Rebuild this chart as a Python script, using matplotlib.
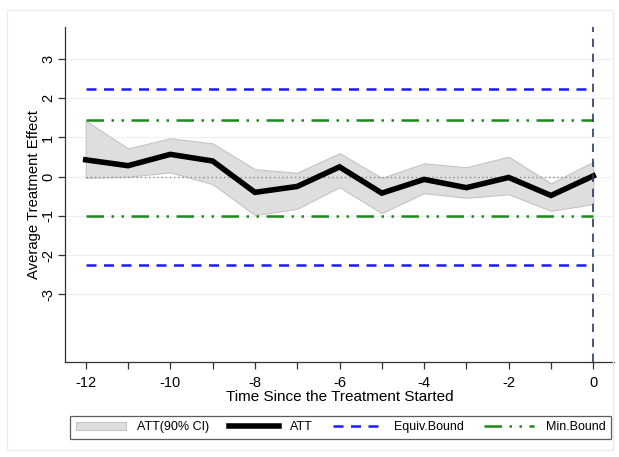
import matplotlib
matplotlib.use("Agg")
import matplotlib.pyplot as plt
from matplotlib.patches import Patch, Rectangle
from matplotlib.lines import Line2D

plt.rcParams['font.family'] = ['Liberation Sans', 'DejaVu Sans']
plt.rcParams['axes.unicode_minus'] = False

periods = [-12, -11, -10, -9, -8, -7, -6, -5, -4, -3, -2, -1, 0]
att = [0.43, 0.28, 0.57, 0.40, -0.40, -0.25, 0.25, -0.42, -0.07, -0.28, -0.02, -0.48, 0.02]
ci_upper = [1.43, 0.72, 0.98, 0.85, 0.19, 0.10, 0.60, -0.03, 0.34, 0.24, 0.51, -0.17, 0.38]
ci_lower = [-0.03, 0.00, 0.11, -0.19, -0.98, -0.82, -0.27, -0.93, -0.42, -0.54, -0.45, -0.87, -0.70]
equiv_bound = [-2.25, 2.25]
min_bound = [-1.00, 1.45]
xticks = [-12, -10, -8, -6, -4, -2, 0]
yticks = [-3, -2, -1, 0, 1, 2, 3]

W, H = 619, 457
fig = plt.figure(figsize=(W / 100, H / 100), dpi=100)
ax = fig.add_axes([65 / W, 1 - 362 / H, (614 - 65) / W, (362 - 27) / H])

# light outer frame of the graph region
fig.patches.append(Rectangle((7 / W, 1 - 450 / H), (613 - 7) / W, (450 - 10) / H,
                             transform=fig.transFigure, fill=False,
                             edgecolor='#ececec', lw=1))

for yv in yticks:
    ax.axhline(yv, color='#efefef', lw=0.8, zorder=0)

ax.fill_between(periods, ci_lower, ci_upper, facecolor='#dedede',
                edgecolor='#c4c4c4', lw=0.8, zorder=1)
ax.plot([periods[0], periods[-1]], [0, 0], color='#8a8a8a', lw=1,
        ls=(0, (1, 2)), zorder=2)
for b in equiv_bound:
    ax.plot([periods[0], periods[-1]], [b, b], color='#1a1aff', lw=1.8,
            ls=(0, (4, 3)), zorder=3)
for b in min_bound:
    ax.plot([periods[0], periods[-1]], [b, b], color='#1a8a1a', lw=1.8,
            ls=(0, (7, 3, 1, 3, 1, 3)), zorder=3)
ax.plot(periods, att, color='black', lw=4, zorder=4, solid_joinstyle='miter')
ax.axvline(0, color='#2a3a66', lw=1.2, ls=(0, (5, 4)), zorder=5)

ax.set_xlim(-12.49, 0.49)
ax.set_ylim(-4.73, 3.82)
ax.set_xticks(xticks)
ax.set_xticks([-11, -9, -7, -5, -3, -1], minor=True)
ax.set_yticks(yticks)
ax.set_yticklabels([str(v) for v in yticks], rotation=90, va='center')
ax.tick_params(axis='both', which='both', direction='out', length=5,
               width=0.9, color='#333333', labelsize=10.5, labelcolor='black')
ax.tick_params(axis='x', pad=5)
ax.tick_params(axis='y', pad=2)
for s in ['top', 'right']:
    ax.spines[s].set_visible(False)
for s in ['left', 'bottom']:
    ax.spines[s].set_color('#333333')
    ax.spines[s].set_linewidth(0.9)

ax.set_xlabel('Time Since the Treatment Started', fontsize=11, labelpad=0)
ax.set_ylabel('Average Treatment Effect', fontsize=10.7, labelpad=0)

handles = [
    Patch(facecolor='#dedede', edgecolor='#c4c4c4', lw=0.8, label='ATT(90% CI)'),
    Line2D([], [], color='black', lw=4, label='ATT'),
    Line2D([], [], color='#1a1aff', lw=1.8, ls=(0, (4, 3)), label='Equiv.Bound'),
    Line2D([], [], color='#1a8a1a', lw=1.8, ls=(0, (7, 3, 1, 3, 1, 3)), label='Min.Bound'),
]
leg = fig.legend(handles=handles, loc='lower left', ncol=4, mode='expand',
                 bbox_to_anchor=(70 / W, 1 - 439 / H, (611 - 70) / W, 28 / H),
                 frameon=True, fancybox=False, edgecolor='#333333', fontsize=9,
                 handlelength=4.0, columnspacing=1.0, handletextpad=0.9,
                 borderpad=0.45, borderaxespad=0)
leg.get_frame().set_linewidth(0.9)

fig.savefig('out.png', dpi=100)
